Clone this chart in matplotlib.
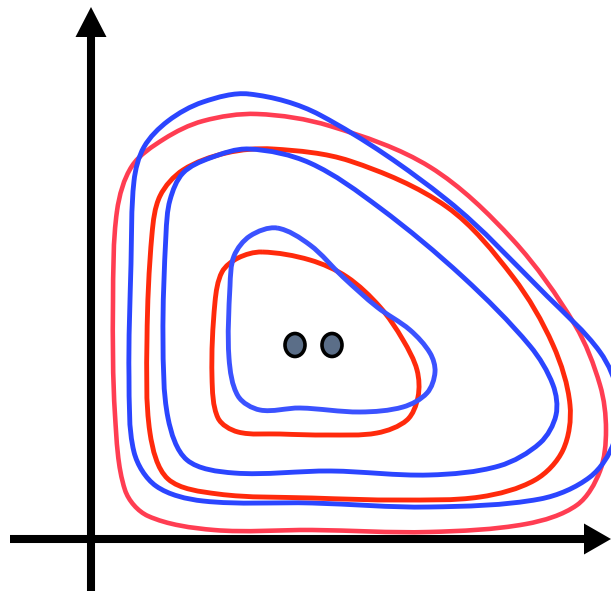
"""
Schematic: two sets of nested closed contours (red / blue) around two points,
drawn on a pair of arrow axes.
"""

import numpy as np
import matplotlib
matplotlib.use('Agg')
import matplotlib.pyplot as plt
from matplotlib.path import Path
from matplotlib.patches import PathPatch, Ellipse, FancyArrow

# canvas size (pixel units, y grows downwards)
W, H = 611, 591

# contour outlines, (x, y) in canvas pixels
red_outer = [(117, 211), (132, 166), (164, 139), (203, 121), (257, 114), (330, 126),
             (430, 167), (513, 240), (575, 325), (600, 385), (606, 430), (600, 471),
             (577, 505), (526, 524), (429, 532), (312, 530), (214, 530), (148, 516),
             (125, 490), (115, 415), (113, 302)]
blue_outer = [(249, 94), (320, 115), (447, 200), (547, 296), (600, 352), (618, 395),
              (614, 442), (590, 477), (540, 499), (429, 507), (312, 503), (203, 501),
              (156, 486), (134, 452), (129, 377), (131, 264), (134, 181), (144, 147),
              (168, 121), (203, 102)]
red_mid = [(273, 149), (350, 161), (447, 207), (513, 277), (553, 345), (570, 405),
           (563, 450), (535, 480), (480, 497), (400, 500), (312, 498), (218, 494),
           (168, 479), (150, 433), (147, 339), (152, 234), (160, 196), (183, 170),
           (226, 153)]
blue_mid = [(249, 149), (310, 163), (380, 208), (463, 277), (530, 346), (553, 385),
            (556, 415), (540, 443), (499, 466), (429, 475), (331, 471), (234, 473),
            (187, 460), (168, 418), (163, 339), (166, 234), (170, 200), (183, 173),
            (210, 158)]
red_inner = [(262, 252), (310, 260), (347, 277), (380, 307), (403, 340), (417, 370),
             (418, 397), (407, 420), (377, 433), (327, 435), (280, 434), (238, 432),
             (218, 418), (212, 377), (215, 302), (222, 272), (238, 258)]
blue_inner = [(277, 228), (310, 245), (343, 277), (377, 307), (410, 330), (430, 353),
              (435, 372), (427, 393), (403, 407), (360, 412), (300, 408), (260, 410),
              (238, 396), (229, 358), (230, 286), (234, 256), (250, 236)]

# the two centre points
dot_x = [295, 332]
dot_y = [345, 345]

# (outline, colour, width in pt)
contours = [
    (red_outer, '#ff3d52', 3.3),
    (blue_outer, '#2b45ff', 3.5),
    (red_mid, '#ff2a0c', 3.5),
    (blue_mid, '#2b45ff', 3.5),
    (red_inner, '#ff2a0c', 3.5),
    (blue_inner, '#3b52ff', 3.5),
]


def closed_smooth_path(pts):
    """Closed chord-length Catmull-Rom through pts, as cubic Beziers."""
    p = np.asarray(pts, dtype=float)
    n = len(p)
    seg = np.linalg.norm(np.roll(p, -1, axis=0) - p, axis=1)  # |p[i+1]-p[i]|
    # tangent at each point, normalised by the two neighbouring chords
    tang = (np.roll(p, -1, axis=0) - np.roll(p, 1, axis=0)) / \
        (seg + np.roll(seg, 1))[:, None]
    verts = [p[0]]
    codes = [Path.MOVETO]
    for i in range(n):
        j = (i + 1) % n
        c1 = p[i] + tang[i] * seg[i] / 3.0
        c2 = p[j] - tang[j] * seg[i] / 3.0
        verts += [c1, c2, p[j]]
        codes += [Path.CURVE4] * 3
    return Path(verts, codes)


fig = plt.figure(figsize=(W / 100, H / 100), dpi=100)
ax = fig.add_axes([0, 0, 1, 1])
ax.set_xlim(0, W)
ax.set_ylim(H, 0)
ax.axis('off')

# axes arrows
ax.plot([10, 590], [539, 539], color='black', lw=5.8, solid_capstyle='butt', zorder=1)
ax.plot([91, 91], [591, 30], color='black', lw=5.8, solid_capstyle='butt', zorder=1)
ax.add_patch(FancyArrow(584, 539, 27, 0, width=0, head_width=31, head_length=27,
                        length_includes_head=True, color='black', lw=0, zorder=1))
ax.add_patch(FancyArrow(91, 37, 0, -30, width=0, head_width=31, head_length=30,
                        length_includes_head=True, color='black', lw=0, zorder=1))

for pts, col, lw in contours:
    ax.add_patch(PathPatch(closed_smooth_path(pts), facecolor='none', edgecolor=col,
                           lw=lw, zorder=2))

for x, y in zip(dot_x, dot_y):
    ax.add_patch(Ellipse((x, y), 20, 23, facecolor='#5b6e88', edgecolor='black',
                         lw=2.6, zorder=3))

fig.savefig('out.png', dpi=100)
plt.close(fig)
